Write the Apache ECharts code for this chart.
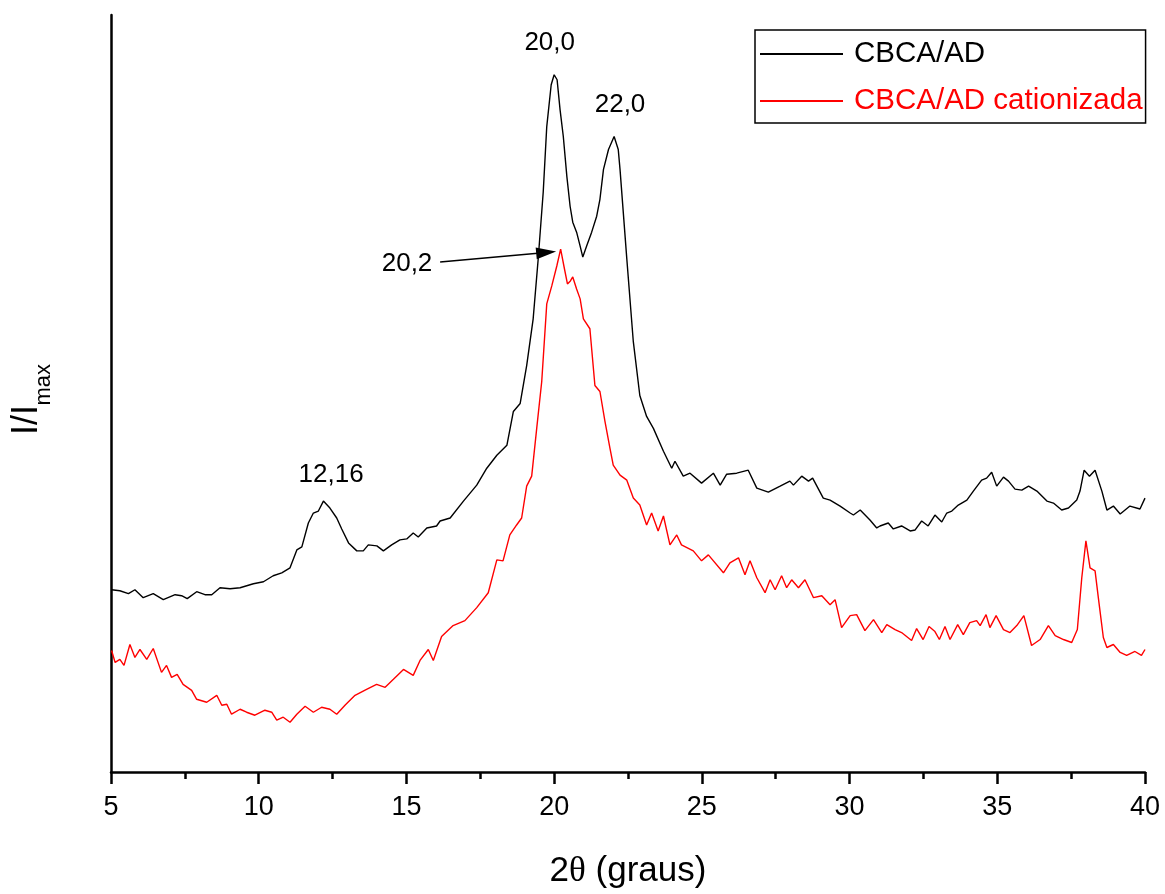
<!DOCTYPE html>
<html>
<head>
<meta charset="utf-8">
<script src="https://cdn.jsdelivr.net/npm/echarts@6/dist/echarts.min.js"></script>
<style>
html,body{margin:0;padding:0;background:#fff;}
#chart{width:1165px;height:894px;}
</style>
</head>
<body>
<div id="chart"></div>
<script>
// 2theta (degrees) and intensity (arbitrary units)
const blackTheta = [5.02,5.3,5.59,5.81,6.09,6.43,6.77,7.17,7.39,7.58,7.9,8.18,8.41,8.69,9.03,9.37,9.82,10.16,10.49,10.78,11.06,11.29,11.46,11.68,11.85,12.02,12.19,12.41,12.64,12.81,13.04,13.32,13.54,13.71,14.0,14.22,14.5,14.78,15.01,15.23,15.4,15.69,16.02,16.14,16.48,16.93,17.38,17.72,18.06,18.4,18.62,18.85,19.07,19.29,19.46,19.63,19.75,19.9,20.0,20.1,20.2,20.31,20.43,20.54,20.63,20.76,20.88,20.97,21.1,21.27,21.44,21.55,21.67,21.84,22.03,22.17,22.23,22.46,22.68,22.9,23.13,23.36,23.7,23.98,24.09,24.37,24.6,24.99,25.39,25.62,25.84,26.18,26.57,26.86,27.25,27.65,27.98,28.1,28.38,28.61,28.75,29.11,29.34,29.68,30.02,30.13,30.36,30.69,30.92,31.03,31.31,31.48,31.76,32.05,32.22,32.44,32.66,32.89,33.12,33.29,33.46,33.68,33.97,34.19,34.47,34.64,34.81,34.98,35.21,35.38,35.6,35.83,36.06,36.34,36.68,36.9,37.18,37.41,37.69,37.8,37.94,38.12,38.31,38.54,38.71,38.93,39.16,39.49,39.83,40.0];
const blackIntensity = [183,182,179,183,175,179,173,178,177,174,181,178,178,185,184,185,189,191,197,200,205,223,226,250,260,262,272,265,255,244,230,222,222,228,227,222,228,233,234,240,236,245,247,252,255,272,288,305,318,328,362,370,408,455,515,582,648,690,700,695,665,638,598,568,552,542,528,517,528,542,558,575,605,625,638,625,605,515,432,378,357,345,322,305,312,297,300,290,300,288,299,300,303,285,281,287,292,288,297,292,295,275,273,267,260,258,263,253,245,247,250,244,247,242,243,252,247,258,251,260,262,268,273,282,293,295,301,287,296,292,284,283,287,282,272,270,263,265,273,282,303,297,303,282,263,267,259,267,264,275];

const redTheta = [5.02,5.14,5.3,5.44,5.64,5.81,5.98,6.21,6.43,6.71,6.88,7.05,7.24,7.44,7.73,7.9,8.24,8.58,8.75,8.92,9.08,9.37,9.59,9.87,10.21,10.44,10.61,10.83,11.06,11.29,11.57,11.85,12.13,12.41,12.64,12.92,13.26,13.65,13.99,14.28,14.56,14.9,15.23,15.46,15.74,15.91,16.19,16.58,16.98,17.38,17.77,18.06,18.27,18.5,18.73,18.9,19.07,19.24,19.41,19.58,19.75,19.92,20.09,20.22,20.35,20.45,20.55,20.63,20.76,20.88,20.99,21.21,21.38,21.55,21.72,21.89,22.0,22.23,22.46,22.68,22.9,23.13,23.3,23.52,23.7,23.92,24.15,24.31,24.71,24.99,25.22,25.73,25.95,26.24,26.46,26.63,26.86,27.14,27.31,27.48,27.7,27.87,28.04,28.27,28.49,28.78,29.06,29.34,29.51,29.73,30.02,30.24,30.52,30.81,31.09,31.26,31.54,31.76,32.1,32.27,32.49,32.69,32.89,33.04,33.23,33.4,33.66,33.85,34.07,34.3,34.42,34.62,34.75,34.96,35.21,35.43,35.66,35.9,36.16,36.45,36.73,36.96,37.24,37.52,37.71,37.86,38.0,38.14,38.31,38.42,38.59,38.71,38.93,39.16,39.38,39.66,39.88,40.0];
const redIntensity = [122,110,113,107,128,115,123,113,124,100,107,95,98,88,82,73,70,77,67,68,58,63,60,57,62,60,52,55,50,58,66,60,65,63,58,67,77,83,88,85,93,103,97,112,123,112,136,147,152,165,180,213,212,238,248,255,287,297,345,392,470,488,508,525,505,490,493,497,485,475,455,445,388,382,352,325,308,298,293,275,268,248,260,242,257,228,238,228,222,212,218,200,210,215,198,212,195,180,193,183,197,185,193,185,193,175,177,168,173,145,157,158,142,153,140,148,143,140,132,144,133,146,141,133,146,133,148,138,150,152,147,158,145,157,143,140,147,157,127,133,147,137,133,130,143,195,232,205,202,175,135,125,128,120,117,121,117,123];

const xTicks = [5,10,15,20,25,30,35,40];
const seriesNames = ['CBCA/AD', 'CBCA/AD cationizada'];
const peakLabels = [
  {text:'20,0', theta:19.85, intensity:732},
  {text:'22,0', theta:22.23, intensity:670},
  {text:'12,16', theta:12.45, intensity:298},
  {text:'20,2', theta:15.02, intensity:510}
];
const arrowFrom = [16.14, 512];
const arrowTo = [19.73, 521.6];

const FONT = '"Liberation Sans", Arial, sans-serif';
const blackData = blackTheta.map((t,i)=>[t, blackIntensity[i]]);
const redData = redTheta.map((t,i)=>[t, redIntensity[i]]);

const chart = echarts.init(document.getElementById('chart'), null, {renderer:'canvas'});
chart.setOption({
  animation:false,
  backgroundColor:'#fff',
  grid:{left:111, right:20, top:15, bottom:119, containLabel:false},
  legend:{
    orient:'vertical',
    left:755, top:30,
    padding:[9,3,7,5],
    itemGap:17,
    itemWidth:83, itemHeight:2,
    icon:'rect',
    borderColor:'#000', borderWidth:1.5,
    textStyle:{fontFamily:FONT, fontSize:29.5, padding:[0,0,0,6]},
    data:[
      {name:seriesNames[0], textStyle:{color:'#000'}},
      {name:seriesNames[1], textStyle:{color:'#ff0000'}}
    ]
  },
  xAxis:{
    type:'value', min:5, max:40, interval:5,
    name:'2{t|θ} (graus)',
    nameLocation:'middle', nameGap:82,
    nameTextStyle:{fontFamily:FONT, fontSize:35, color:'#000',
      rich:{t:{fontFamily:'"Liberation Serif", serif', fontSize:35, color:'#000'}}},
    axisLine:{show:true, onZero:false, lineStyle:{color:'#000', width:2.5}},
    axisTick:{show:true, length:12, lineStyle:{color:'#000', width:2.5}},
    minorTick:{show:true, splitNumber:2, length:7, lineStyle:{color:'#000', width:2.5}},
    axisLabel:{fontFamily:FONT, fontSize:27, color:'#000', margin:22,
      formatter:v=> xTicks.includes(v) ? String(v) : ''},
    splitLine:{show:false}
  },
  yAxis:{
    type:'value', min:0, max:760,
    axisLine:{show:true, onZero:false, lineStyle:{color:'#000', width:2.5}},
    axisTick:{show:false}, axisLabel:{show:false}, splitLine:{show:false}
  },
  graphic:[
    {type:'text', left:9, top:405, rotation:Math.PI/2,
      style:{text:'I/I', font:'36px '+FONT, fill:'#000'}},
    {type:'text', left:33, top:364, rotation:Math.PI/2,
      style:{text:'max', font:'22px '+FONT, fill:'#000'}}
  ],
  series:[
    {
      name:seriesNames[0], type:'line', data:blackData, showSymbol:false,
      lineStyle:{color:'#000', width:1.4}, itemStyle:{color:'#000'},
      emphasis:{disabled:true},
      markPoint:{
        silent:true, symbol:'circle', symbolSize:0,
        label:{show:true, position:'inside', formatter:'{b}', fontFamily:FONT, fontSize:26, color:'#000'},
        data: peakLabels.map(p=>({name:p.text, coord:[p.theta, p.intensity]}))
      },
      markLine:{
        silent:true, animation:false,
        label:{show:false},
        lineStyle:{color:'#000', width:1.5, type:'solid'},
        data:[[
          {coord:arrowFrom, symbol:'none'},
          {coord:arrowTo, symbol:'triangle', symbolSize:[12,20]}
        ]]
      }
    },
    {
      name:seriesNames[1], type:'line', data:redData, showSymbol:false,
      lineStyle:{color:'#ff0000', width:1.4}, itemStyle:{color:'#ff0000'},
      emphasis:{disabled:true}
    }
  ]
});
</script>
</body>
</html>
